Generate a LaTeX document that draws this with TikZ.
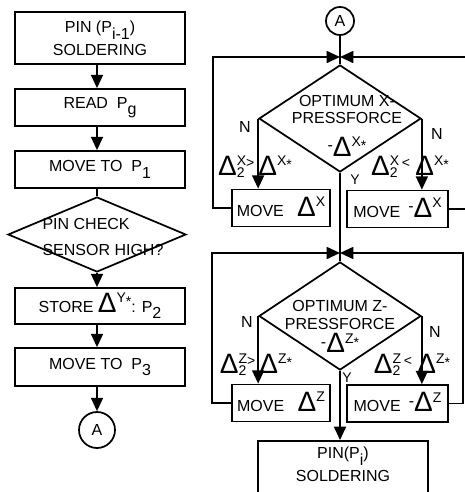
\documentclass[tikz,border=0pt]{standalone}
\usepackage{fontspec}
\setmainfont{Liberation Sans}
\usetikzlibrary{shapes.geometric,arrows.meta}

\tikzset{every picture/.style={line width=1.3pt}}
\tikzset{
  box/.style={draw, rectangle, inner sep=0pt, align=center},
  dmd/.style={draw, diamond, inner sep=0pt},
  conn/.style={draw, circle, inner sep=0pt},
  arr/.style={-{Triangle[width=9pt,length=10pt]}},
}
\newcommand{\fbody}{\fontsize{12}{14}\selectfont}
\newcommand{\fdelta}{\fontsize{21}{21}\selectfont}
\newcommand{\fsup}{\fontsize{10.5}{10.5}\selectfont}
\newcommand{\lowtxt}[1]{\raisebox{-5pt}{#1}}
\newcommand{\mns}{\raisebox{4pt}{-}}
\newcommand{\dsym}[2]{%
  {\fdelta Δ}%
  \setbox0=\hbox{\raisebox{7pt}{\fsup #1}}%
  \setbox2=\hbox{\raisebox{-2pt}{\fsup #2}}%
  \ifdim\wd0>\wd2 \wd2=\wd0 \fi
  \rlap{\box0}\box2}

\begin{document}
\begin{tikzpicture}[x=0.75pt,y=0.75pt,yscale=-1,xscale=1,font=\fbody]
\useasboundingbox (0,0) rectangle (464,492);

%Shape: Rectangle [id:solda]
\node[box, minimum width=127.5pt, minimum height=39pt] (solda) at (100,38) {PIN (P\lowtxt{i-1})\\[3pt]SOLDERING};
%Shape: Rectangle [id:readg]
\node[box, minimum width=127.5pt, minimum height=27.75pt] (readg) at (100,107.5) {READ\ \ P\lowtxt{g}};
%Shape: Rectangle [id:movp1]
\node[box, minimum width=127.5pt, minimum height=27.75pt] (movp1) at (100,169.5) {MOVE TO\ \ P\lowtxt{1}};
%Shape: Diamond [id:pinchk]
\node[dmd, minimum width=133.5pt, minimum height=56.25pt] (pinchk) at (97,234.5) {};
%Shape: Rectangle [id:stor]
\node[box, minimum width=127.5pt, minimum height=27pt] (stor) at (100,306) {STORE \dsym{Y\raisebox{-3pt}{*}}{}: P\lowtxt{2}};
%Shape: Rectangle [id:movp3]
\node[box, minimum width=127.5pt, minimum height=28.5pt] (movp3) at (100,367) {MOVE TO\ \ P\lowtxt{3}};
%Shape: Circle [id:ca]
\node[conn, minimum size=27pt] (ca) at (97,430) {A};

%Straight Lines [left column]
\draw[arr] (solda.south -| pinchk) -- (readg.north -| pinchk);
\draw[arr] (readg.south -| pinchk) -- (movp1.north -| pinchk);
\draw (movp1.south -| pinchk) -- (pinchk.north);
\draw[arr] (pinchk.south) -- (stor.north -| pinchk);
\draw[arr] (stor.south -| pinchk) -- (movp3.north -| pinchk);
\draw[arr] (movp3.south -| ca) -- (ca);

%Shape: Circle [id:cb]
\node[conn, minimum size=21pt] (cb) at (340,21) {A};
\coordinate (jx) at (340,57);
\coordinate (lxa) at (213,57);
\coordinate (rxa) at (467,57);
%Shape: Diamond [id:optx]
\node[dmd, minimum width=121.5pt, minimum height=80.25pt] (optx) at (340,118.5) {};
%Shape: Rectangle [id:mvxl]
\node[box, minimum width=73.5pt, minimum height=27.75pt] (mvxl) at (281,208) {MOVE\hspace{10pt}\dsym{X}{}};
%Shape: Rectangle [id:mvxr]
\node[box, minimum width=75.75pt, minimum height=27.75pt] (mvxr) at (397.5,209) {MOVE\hspace{6pt}\mns\dsym{X}{}};

\coordinate (jz) at (340,253);
\coordinate (lza) at (212,253);
\coordinate (rza) at (463,253);
%Shape: Diamond [id:optz]
\node[dmd, minimum width=121.5pt, minimum height=81pt] (optz) at (340,316) {};
%Shape: Rectangle [id:mvzl]
\node[box, minimum width=73.5pt, minimum height=27.75pt] (mvzl) at (281,403) {MOVE\hspace{10pt}\dsym{Z}{}};
%Shape: Rectangle [id:mvzr]
\node[box, minimum width=75.75pt, minimum height=27.75pt] (mvzr) at (397.5,403.5) {MOVE\hspace{6pt}\mns\dsym{Z}{}};
%Shape: Rectangle [id:soldb]
\node[box, minimum width=127.5pt, minimum height=45pt, anchor=north] (soldb) at (343,440) {};

%Straight Lines [right column]
\draw (cb) -- (jx) -- (optx.north);
\draw[arr] (mvxl.west) -| (lxa) -- (jx);
\draw[arr] (mvxr.east) -| (rxa) -- (jx);
\draw[arr] (optx.west) -- (optx.west |- mvxl.north);
\draw[arr] (optx.east) -- (optx.east |- mvxr.north);
\draw (optx.south) -- (jz) -- (optz.north);
\draw[arr] (mvzl.west) -| (lza) -- (jz);
\draw[arr] (mvzr.east) -| (rza) -- (jz);
\draw[arr] (optz.west) -- (optz.west |- mvzl.north);
\draw[arr] (optz.east) -- (optz.east |- mvzr.north);
\draw[arr] (optz.south) -- (optz.south |- soldb.north);

% Text Node
\node[align=left] (pinchkt) at (103,237) {PIN CHECK\\[5pt]SENSOR HIGH?};
% Text Node
\node[align=center] (optxt) at (347,127) {OPTIMUM X-\\[-1pt]PRESSFORCE\\[9pt]\mns\dsym{X\raisebox{-3pt}{*}}{}};
% Text Node
\node (nxl) at (245,127) {N};
% Text Node
\node (nxr) at (437,134) {N};
% Text Node
\node[font=\fsup] (yx) at (355,180) {Y};
% Text Node
\node (cxl) at (255,167) {\dsym{X}{2}\raisebox{6pt}{\fsup >}\hspace{3pt}\dsym{X\raisebox{-3pt}{*}}{}};
% Text Node
\node (cxr) at (410,167) {\dsym{X}{2}\hspace{2pt}\raisebox{6pt}{\fsup <}\hspace{4pt}\dsym{X\raisebox{-3pt}{*}}{}};
% Text Node
\node[align=center] (optzt) at (340,328) {OPTIMUM Z-\\[-1pt]PRESSFORCE\\[2pt]\mns\dsym{Z\raisebox{-3pt}{*}}{}};
% Text Node
\node (nzl) at (247,322) {N};
% Text Node
\node (nzr) at (435,332) {N};
% Text Node
\node[font=\fsup] (yz) at (347,378) {Y};
% Text Node
\node (czl) at (256,365) {\dsym{Z}{2}\raisebox{6pt}{\fsup >}\hspace{3pt}\dsym{Z\raisebox{-3pt}{*}}{}};
% Text Node
\node (czr) at (412,365) {\dsym{Z}{2}\hspace{2pt}\raisebox{6pt}{\fsup <}\hspace{4pt}\dsym{Z\raisebox{-3pt}{*}}{}};
% Text Node
\node[align=center] (soldbt) at (343,464) {PIN(P\lowtxt{i})\\[3pt]SOLDERING};

\end{tikzpicture}
\end{document}
